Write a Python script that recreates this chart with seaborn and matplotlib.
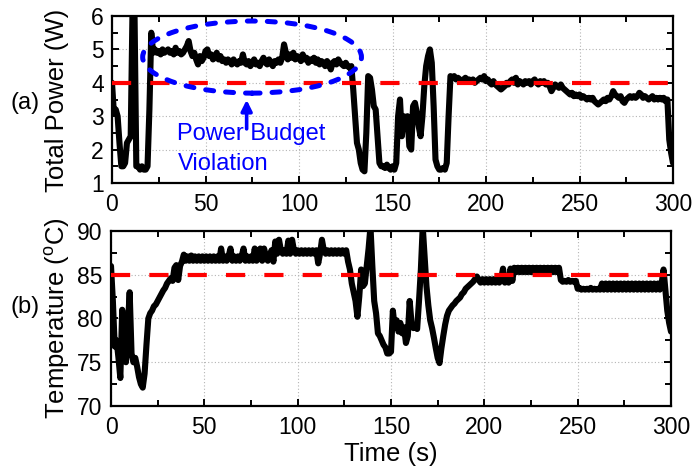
import numpy as np
import pandas as pd
import matplotlib
matplotlib.use("Agg")
import matplotlib.pyplot as plt
from matplotlib.patches import Ellipse
from matplotlib.ticker import MultipleLocator
import seaborn as sns

# ---------------- data ----------------
time_s = list(range(0, 301))

power_w = [
    4.0, 3.1, 3.2, 3.0, 2.2, 1.5, 1.5, 1.6, 2.2, 2.3,
    2.4, 6.3, 6.3, 1.5, 1.5, 1.4, 1.5, 1.4, 1.4, 1.5,
    3.2, 5.5, 4.9, 5.0, 4.9, 4.95, 4.85, 5.0, 4.9, 4.95,
    5.0, 4.9, 4.95, 4.85, 5.05, 4.9, 4.95, 4.85, 4.9, 5.0,
    5.1, 5.25, 4.95, 4.8, 4.9, 4.7, 4.55, 4.8, 4.65, 4.75,
    4.95, 5.0, 4.8, 4.85, 4.7, 4.75, 4.9, 4.7, 4.8, 4.65,
    4.7, 4.6, 4.7, 4.65, 4.55, 4.7, 4.6, 4.55, 4.65, 4.6,
    4.85, 4.6, 4.55, 4.65, 4.5, 4.6, 4.7, 4.55, 4.6, 4.5,
    4.65, 4.75, 4.6, 4.55, 4.7, 4.6, 4.5, 4.65, 4.6, 4.7,
    4.6, 4.75, 5.15, 4.9, 4.7, 4.85, 4.75, 4.9, 4.7, 4.8,
    4.75, 4.65, 4.85, 4.7, 4.75, 4.6, 4.7, 4.65, 4.75, 4.6,
    4.7, 4.55, 4.65, 4.6, 4.5, 4.65, 4.55, 4.4, 4.6, 4.65,
    4.55, 4.7, 4.6, 4.55, 4.5, 4.6, 4.5, 4.45, 4.5, 3.8,
    3.0, 2.2, 2.0, 1.6, 1.4, 1.35, 2.5, 4.2, 4.15, 3.8,
    3.3, 3.2, 2.4, 1.6, 1.5, 1.5, 1.45, 1.55, 1.45, 1.4,
    1.5, 1.4, 1.6, 3.0, 3.5, 2.4, 3.0, 2.9, 3.0, 2.1,
    2.0, 3.3, 3.4, 3.1, 2.7, 2.4, 3.0, 3.9, 4.5, 4.8,
    5.0, 4.6, 3.3, 1.7, 1.5, 1.4, 1.4, 1.45, 1.4, 1.6,
    3.0, 4.2, 4.15, 4.2, 4.1, 4.15, 4.1, 4.05, 4.1, 4.15,
    4.05, 4.1, 4.05, 4.1, 4.0, 4.05, 4.1, 4.15, 4.1, 4.2,
    4.05, 4.1, 4.0, 3.95, 4.05, 3.95, 3.9, 3.85, 3.8, 3.85,
    3.9, 4.0, 3.95, 4.05, 4.1, 4.0, 4.15, 3.95, 4.05, 4.0,
    3.95, 4.05, 4.0, 4.05, 3.95, 4.05, 4.1, 4.0, 3.95, 4.05,
    4.0, 4.05, 3.95, 4.0, 3.9, 3.75, 3.85, 3.95, 3.9, 3.85,
    3.95, 3.85, 3.8, 3.75, 3.7, 3.65, 3.7, 3.6, 3.65, 3.6,
    3.65, 3.55, 3.6, 3.55, 3.5, 3.55, 3.5, 3.55, 3.45, 3.4,
    3.35, 3.4, 3.45, 3.5, 3.45, 3.55, 3.5, 3.6, 3.75, 3.65,
    3.6, 3.55, 3.6, 3.45, 3.4, 3.5, 3.55, 3.6, 3.55, 3.6,
    3.55, 3.6, 3.7, 3.65, 3.55, 3.6, 3.55, 3.5, 3.55, 3.6,
    3.5, 3.55, 3.5, 3.55, 3.5, 3.55, 3.45, 3.5, 2.3, 1.9,
    1.6,
]

temperature_c = [
    86.0, 82.0, 76.8, 77.5, 75.5, 73.2, 81.0, 77.0, 75.0, 79.0,
    83.0, 76.0, 75.0, 75.5, 74.5, 73.3, 72.5, 72.1, 73.7, 77.0,
    80.0, 80.6, 80.9, 81.4, 81.6, 82.0, 82.4, 82.8, 83.2, 83.5,
    84.0, 84.3, 84.6, 84.3, 85.8, 86.1, 84.4, 86.0, 86.5, 87.3,
    86.6, 87.1, 86.6, 87.2, 86.6, 87.1, 86.6, 87.1, 86.6, 87.1,
    86.6, 87.1, 86.6, 87.1, 86.6, 87.1, 86.6, 87.1, 86.6, 88.0,
    86.6, 87.1, 86.6, 87.1, 88.0, 86.6, 87.1, 86.6, 87.1, 86.6,
    87.1, 88.0, 86.6, 87.1, 86.6, 87.1, 86.6, 88.0, 86.6, 87.1,
    88.0, 86.6, 88.0, 87.1, 86.6, 87.1, 87.8, 86.5, 88.8, 87.4,
    89.0, 87.8, 87.4, 87.8, 87.4, 88.9, 87.4, 89.0, 87.8, 87.4,
    87.8, 87.4, 87.8, 87.4, 87.8, 87.4, 87.8, 87.4, 87.8, 87.4,
    87.8, 86.3, 87.4, 89.0, 87.8, 87.4, 87.8, 87.4, 87.8, 87.4,
    87.8, 87.4, 87.8, 87.4, 87.8, 87.4, 87.8, 86.5, 85.6, 84.0,
    83.0, 82.0, 80.2, 82.5, 85.6, 83.7, 84.0, 86.0, 88.0, 90.5,
    86.0, 82.0, 80.6, 78.3, 78.0, 77.5, 77.0, 76.7, 76.0, 76.0,
    76.2, 80.9, 79.0, 79.8, 78.5, 79.5, 78.3, 79.0, 77.2, 78.0,
    82.0, 79.5, 78.9, 79.2, 78.8, 82.0, 85.6, 90.5, 87.0, 83.7,
    81.5, 79.8, 78.9, 77.8, 76.6, 75.5, 74.9, 76.6, 78.0, 79.3,
    80.3, 80.9, 81.2, 81.5, 81.7, 82.0, 82.2, 82.4, 82.8, 83.0,
    83.4, 83.6, 83.8, 84.0, 84.2, 84.5, 84.8, 84.4, 84.1, 84.5,
    84.1, 84.5, 84.1, 84.5, 84.1, 84.5, 84.1, 84.5, 84.1, 84.5,
    85.7, 84.1, 84.5, 84.1, 85.7, 84.3, 85.8, 85.3, 85.8, 85.3,
    85.8, 85.3, 85.8, 85.3, 85.8, 85.3, 85.8, 85.3, 85.8, 85.3,
    85.8, 85.3, 85.8, 85.3, 85.8, 85.3, 85.8, 85.3, 85.8, 85.3,
    85.8, 84.4, 84.2, 84.3, 84.2, 84.4, 84.2, 84.3, 84.2, 84.3,
    83.4, 83.5, 83.3, 83.4, 83.3, 83.4, 83.3, 83.5, 83.3, 83.4,
    83.3, 83.4, 83.3, 84.0, 83.3, 84.0, 83.3, 84.0, 83.3, 84.0,
    83.3, 84.0, 83.3, 84.0, 83.3, 84.0, 83.3, 84.0, 83.3, 84.0,
    83.3, 84.0, 83.3, 84.0, 83.3, 84.0, 83.3, 84.0, 83.3, 84.0,
    83.3, 84.0, 83.3, 84.0, 83.3, 84.0, 85.6, 83.3, 80.9, 79.5,
    78.5,
]

power_budget_w = 4.0
temp_limit_c = 85.0

power_ticks = [1, 2, 3, 4, 5, 6]
temp_ticks = [70, 75, 80, 85, 90]
time_ticks = [0, 50, 100, 150, 200, 250, 300]

# ---------------- style ----------------
sns.set_theme(style="ticks")
plt.rcParams["font.family"] = ["Liberation Sans", "DejaVu Sans"]
plt.rcParams["mathtext.fontset"] = "custom"
plt.rcParams["mathtext.rm"] = "Liberation Sans"
plt.rcParams["mathtext.it"] = "Liberation Sans:italic"
plt.rcParams["axes.linewidth"] = 1.6
plt.rcParams["axes.edgecolor"] = "black"
plt.rcParams["text.color"] = "black"
plt.rcParams["axes.labelcolor"] = "black"
plt.rcParams["xtick.color"] = "black"
plt.rcParams["ytick.color"] = "black"

TICK_FS = 16.5
LABEL_FS = 18.5
NOTE_FS = 17

fig = plt.figure(figsize=(6.94, 4.71), dpi=100)
ax1 = fig.add_axes([112 / 694, 1 - 183 / 471, 561 / 694, 167 / 471])
ax2 = fig.add_axes([111 / 694, 1 - 406 / 471, 560 / 694, 175 / 471])

df_p = pd.DataFrame({"t": time_s, "p": power_w})
df_t = pd.DataFrame({"t": time_s, "T": temperature_c})

sns.lineplot(data=df_p, x="t", y="p", ax=ax1, color="black", linewidth=4.4,
             estimator=None, sort=False, zorder=3)
sns.lineplot(data=df_t, x="t", y="T", ax=ax2, color="black", linewidth=4.4,
             estimator=None, sort=False, zorder=3)
for ax in (ax1, ax2):
    for ln in ax.get_lines():
        ln.set_solid_joinstyle("round")
        ln.set_solid_capstyle("round")

ax1.axhline(power_budget_w, color="#ff0000", linewidth=3.0,
            linestyle=(0, (4.6, 4.6)), zorder=4)
ax2.axhline(temp_limit_c, color="#ff0000", linewidth=3.0,
            linestyle=(0, (4.6, 4.6)), zorder=4)

# axes formatting
ax1.set_xlim(0, 300)
ax1.set_ylim(1, 6)
ax2.set_xlim(0, 300)
ax2.set_ylim(70, 90)
ax1.set_yticks(power_ticks)
ax2.set_yticks(temp_ticks)
for ax in (ax1, ax2):
    ax.set_xticks(time_ticks)
    ax.xaxis.set_minor_locator(MultipleLocator(25))
    ax.tick_params(which="both", direction="in", top=True, right=True,
                   width=1.4, colors="black", labelsize=TICK_FS)
    ax.tick_params(axis="x", which="both", pad=7)
    ax.tick_params(axis="y", which="both", pad=6)
    ax.tick_params(which="major", length=5)
    ax.tick_params(which="minor", length=4)
    ax.grid(True, which="major", color="#b4b4b4", linestyle=(0, (1, 2)),
            linewidth=0.8, zorder=0)
    ax.set_axisbelow(True)
    for sp in ax.spines.values():
        sp.set_visible(True)
        sp.set_linewidth(1.6)
        sp.set_color("black")
ax1.yaxis.set_minor_locator(MultipleLocator(0.5))
ax2.yaxis.set_minor_locator(MultipleLocator(2.5))

ax1.set_xlabel("")
ax2.set_xlabel("Time (s)", fontsize=LABEL_FS, labelpad=2)
ax1.set_ylabel("Total Power (W)", fontsize=LABEL_FS)
ax2.set_ylabel(r"Temperature ($^{\rm o}$C)", fontsize=LABEL_FS)
ax1.yaxis.set_label_coords(-0.098, 0.497)
ax2.yaxis.set_label_coords(-0.0964, 0.5)
ax1.yaxis.label.set_verticalalignment("center")
ax2.yaxis.label.set_verticalalignment("center")

fig.text(25 / 694, 1 - 103 / 471, "(a)", fontsize=NOTE_FS, ha="center", va="center")
fig.text(25 / 694, 1 - 307 / 471, "(b)", fontsize=NOTE_FS, ha="center", va="center")

# annotation: power budget violation
ell = Ellipse((74.9, 4.77), 117, 2.16, fill=False, edgecolor="#0000ff",
              linewidth=3.6, linestyle=(0, (1.6, 2.4)), zorder=5)
ell.set_capstyle("round")
ax1.add_patch(ell)
ax1.annotate("", xy=(72, 3.49), xytext=(72, 2.62),
             arrowprops=dict(arrowstyle="-|>", color="#0000ff", lw=2.6,
                             mutation_scale=16, shrinkA=0, shrinkB=0),
             zorder=5)
ax1.text(35, 2.29, "Power Budget", color="#0000ff", fontsize=NOTE_FS,
         ha="left", va="baseline", zorder=6)
ax1.text(35, 1.39, "Violation", color="#0000ff", fontsize=NOTE_FS,
         ha="left", va="baseline", zorder=6)

fig.savefig("out.png", dpi=100)
